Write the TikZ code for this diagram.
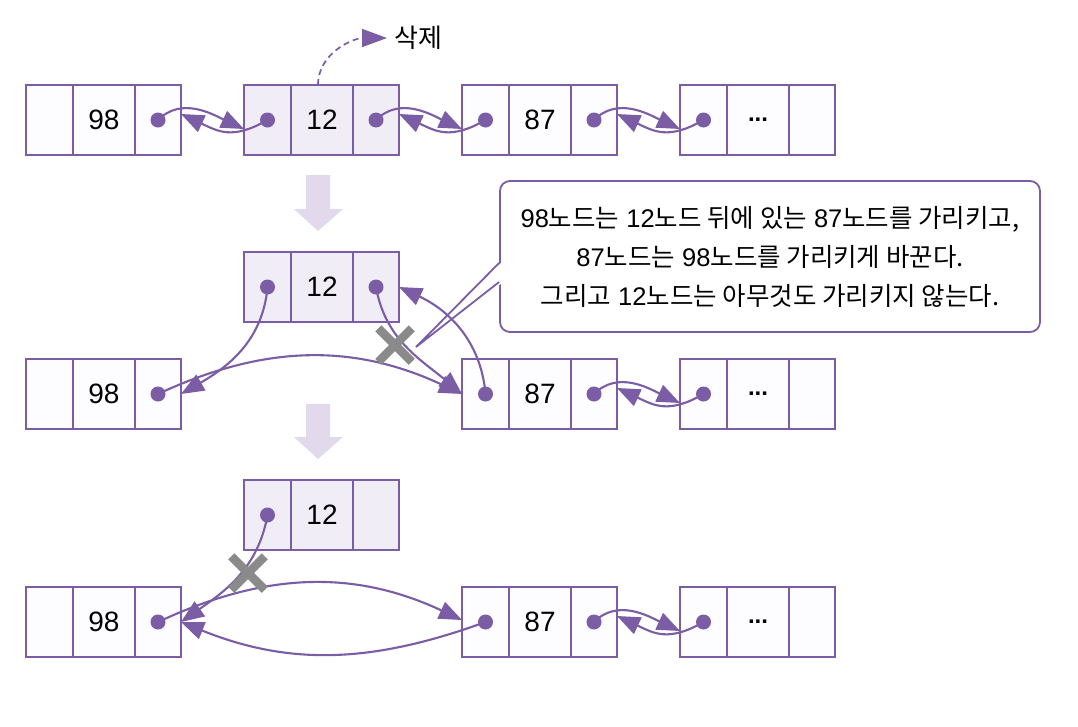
\documentclass[tikz,border=0pt]{standalone}
\usepackage{fontspec}
\setmainfont{Liberation Sans}
\newfontfamily\kr{Noto Sans CJK KR}
\usetikzlibrary{arrows.meta,shapes.misc,calc}
\definecolor{pur}{HTML}{7B5DA6}
\definecolor{lav}{HTML}{F1EDF6}
\definecolor{pale}{HTML}{FDFCFE}
\definecolor{downc}{HTML}{E2DAEC}
\definecolor{xgray}{HTML}{8A8A8A}
\newcommand{\K}[1]{{\kr #1}}
\newcommand{\llbox}[5]{%
  \node[cellbox,#5,minimum width=47pt] (#1p) at (#2,#3) {};
  \node[cellbox,#5,minimum width=62pt] (#1d) at ({#2+47},#3) {#4};
  \node[cellbox,#5,minimum width=46pt] (#1n) at ({#2+109},#3) {};
}
\begin{document}
\begin{tikzpicture}[x=1pt,y=-1pt,
  cellbox/.style={draw=pur,line width=2pt,fill=pale,minimum height=70pt,
    anchor=north west,inner sep=0pt,outer sep=0pt,
    font=\fontsize{28}{28}\selectfont},
  delbox/.style={fill=lav},
  dotn/.style={circle,fill=pur,minimum size=15pt,inner sep=0pt},
  link/.style={draw=pur,line width=2.1pt,-{Triangle[length=23pt,width=18pt]}},
  dashlink/.style={draw=pur,line width=1.7pt,dash pattern=on 6pt off 4pt,
    -{Triangle[length=25pt,width=18pt]}},
  xmark/.style={cross out,draw=xgray,line width=8.5pt,minimum size=25pt,inner sep=0pt},
  downarrow/.style={fill=downc},
  note/.style={draw=pur,line width=1.8pt,rounded corners=10pt,fill=white,
    minimum width=540pt,minimum height=151pt,align=center,
    font=\fontsize{25.5}{39}\selectfont},
  dots/.style={font=\fontsize{24}{24}\selectfont\bfseries}
]
\useasboundingbox[fill=white] (0,0) rectangle (1078,726);

% ---------- row 1 ----------
\llbox{A}{26}{85}{98}{}
\llbox{B}{244}{85}{12}{delbox}
\llbox{C}{462}{85}{87}{}
\llbox{D}{680}{85}{}{}
\node[dots] (Ddots) at (Dd.center) {...};
\node[dotn] (And) at (An.center) {};
\node[dotn] (Bpd) at (Bp.center) {};
\node[dotn] (Bnd) at (Bn.center) {};
\node[dotn] (Cpd) at (Cp.center) {};
\node[dotn] (Cnd) at (Cn.center) {};
\node[dotn] (Dpd) at (Dp.center) {};

\draw[link] (And.center) to[out=45,in=155] ([yshift=-9pt]Bp.west);
\draw[link] (Bpd.center) to[out=210,in=-25,looseness=1.2] ([yshift=6pt]An.east);
\draw[link] (Bnd.center) to[out=45,in=155] ([yshift=-9pt]Cp.west);
\draw[link] (Cpd.center) to[out=210,in=-25,looseness=1.2] ([yshift=6pt]Bn.east);
\draw[link] (Cnd.center) to[out=45,in=155] ([yshift=-9pt]Dp.west);
\draw[link] (Dpd.center) to[out=210,in=-25,looseness=1.2] ([yshift=6pt]Cn.east);

\node[anchor=west,inner sep=0pt,font=\kr\fontsize{26}{26}\selectfont] (del) at (394,38) {삭제};
\draw[dashlink] ([xshift=-4pt]Bd.north) to[out=90,in=180] ([xshift=-7pt]del.west);

% ---------- down arrow 1 ----------
\fill[downarrow] (306,175) -- (330,175) -- (330,209) -- (343,209) -- (318,231)
  -- (294,209) -- (306,209) -- cycle;

% ---------- callout ----------
\node[note] (callout) at (770,256.5) {%
98\K{노드는} 12\K{노드 뒤에 있는} 87\K{노드를 가리키고,}\\
87\K{노드는} 98\K{노드를 가리키게 바꾼다.}\\
\K{그리고} 12\K{노드는 아무것도 가리키지 않는다.}};
\coordinate (tail) at (416,347);
\fill[white] (502,262) -- (tail) -- (502,283) -- cycle;
\draw[pur,line width=1.8pt] ([yshift=-6.5pt]callout.west) -- (tail) -- ([yshift=-25.5pt]callout.west);

% ---------- row 2 ----------
\llbox{B2}{244}{252}{12}{delbox}
\llbox{A2}{26}{359}{98}{}
\llbox{C2}{462}{359}{87}{}
\llbox{D2}{680}{359}{}{}
\node[dots] (D2dots) at (D2d.center) {...};
\node[dotn] (B2pd) at (B2p.center) {};
\node[dotn] (B2nd) at (B2n.center) {};
\node[dotn] (A2nd) at (A2n.center) {};
\node[dotn] (C2pd) at (C2p.center) {};
\node[dotn] (C2nd) at (C2n.center) {};
\node[dotn] (D2pd) at (D2p.center) {};

\draw[link] (B2pd.center) to[out=-95,in=30] (A2n.east);
\draw[link] (A2nd.center) to[out=25,in=155] (C2p.west);
\draw[link] (B2nd.center) to[out=-80,in=140] (C2p.west);
\draw[link] (C2pd.center) to[out=95,in=-25] (B2n.east);
\draw[link] (C2nd.center) to[out=45,in=155] ([yshift=-9pt]D2p.west);
\draw[link] (D2pd.center) to[out=210,in=-25,looseness=1.2] ([yshift=6pt]C2n.east);
\node[xmark] (x1) at (395,345) {};

% ---------- down arrow 2 ----------
\fill[downarrow] (306,404) -- (330,404) -- (330,437) -- (343,437) -- (318,459)
  -- (294,437) -- (306,437) -- cycle;

% ---------- row 3 ----------
\llbox{B3}{244}{480}{12}{delbox}
\llbox{A3}{26}{587}{98}{}
\llbox{C3}{462}{587}{87}{}
\llbox{D3}{680}{587}{}{}
\node[dots] (D3dots) at (D3d.center) {...};
\node[dotn] (B3pd) at (B3p.center) {};
\node[dotn] (A3nd) at (A3n.center) {};
\node[dotn] (C3pd) at (C3p.center) {};
\node[dotn] (C3nd) at (C3n.center) {};
\node[dotn] (D3pd) at (D3p.center) {};

\draw[link] (B3pd.center) to[out=-100,in=35] (A3n.east);
\draw[link] (A3nd.center) to[out=25,in=155] ([yshift=2pt]C3p.west);
\draw[link] (C3pd.center) to[out=200,in=-22] (A3n.east);
\draw[link] (C3nd.center) to[out=45,in=155] ([yshift=-9pt]D3p.west);
\draw[link] (D3pd.center) to[out=210,in=-25,looseness=1.2] ([yshift=6pt]C3n.east);
\node[xmark] (x2) at (248,573) {};
\end{tikzpicture}
\end{document}
